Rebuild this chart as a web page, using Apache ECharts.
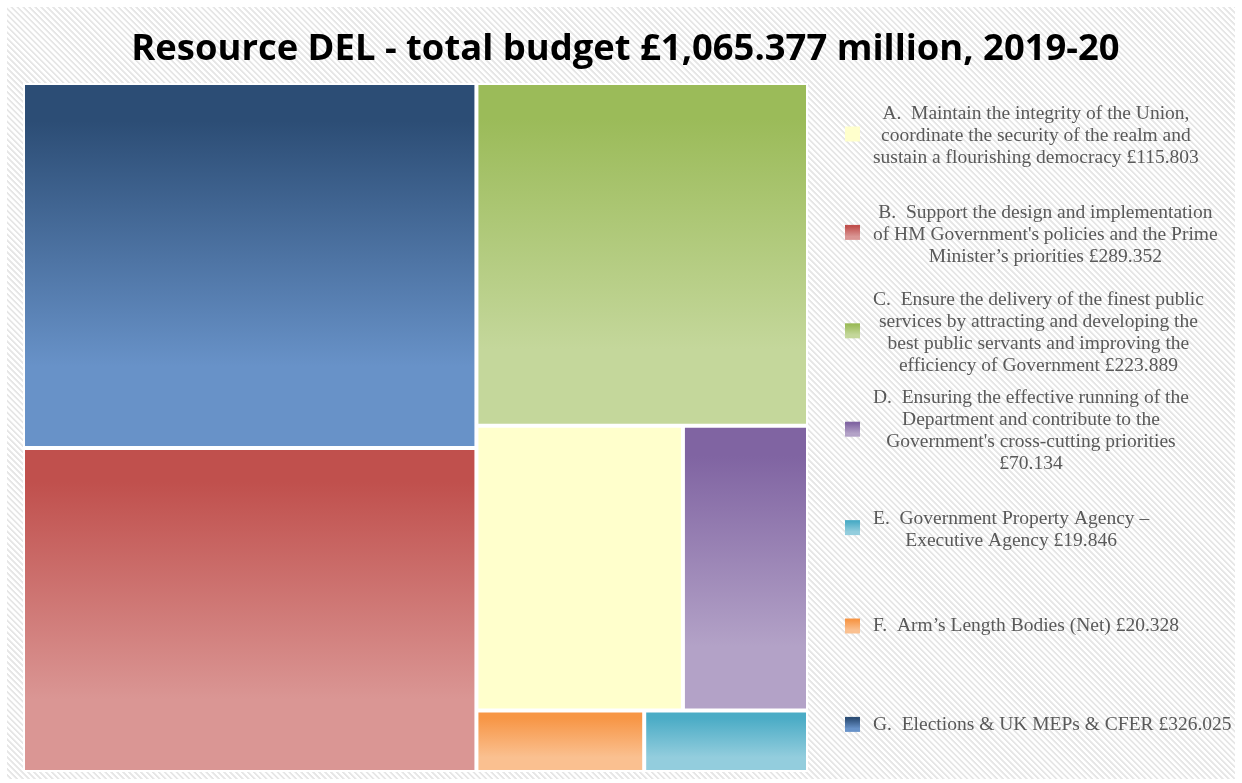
<!DOCTYPE html>
<html>
<head>
<meta charset="utf-8">
<script src="https://cdn.jsdelivr.net/npm/echarts@6/dist/echarts.min.js"></script>
<style>
  html, body { margin: 0; padding: 0; background: #fff; }
  #frame {
    position: absolute; left: 7px; top: 7px; width: 1228px; height: 772px;
    background: repeating-linear-gradient(45deg, #ffffff 0px, #ffffff 1.8px, #e6e6e6 2.4px, #e6e6e6 3.6px, #ffffff 4.2px);
  }
  #chart { position: absolute; left: 0; top: 0; width: 1242px; height: 783px; }
</style>
</head>
<body>
<div id="frame"></div>
<div id="chart"></div>
<script>
// Resource DEL budget lines, 2019-20 (£ million)
const codes = ['A', 'B', 'C', 'D', 'E', 'F', 'G'];
const values = [115.803, 289.352, 223.889, 70.134, 19.846, 20.328, 326.025];
const descriptionLines = [
  ['A.  Maintain the integrity of the Union,', 'coordinate the security of the realm and', 'sustain a flourishing democracy'],
  ['B.  Support the design and implementation', "of HM Government's policies and the Prime", 'Minister’s priorities'],
  ['C.  Ensure the delivery of the finest public', 'services by attracting and developing the', 'best public servants and improving the', 'efficiency of Government'],
  ['D.  Ensuring the effective running of the', 'Department and contribute to the', "Government's cross-cutting priorities", ''],
  ['E.  Government Property Agency –', 'Executive Agency'],
  ['F.  Arm’s Length Bodies (Net)'],
  ['G.  Elections & UK MEPs & CFER']
];
const titleText = 'Resource DEL - total budget £1,065.377 million, 2019-20';

// How the tiles are grouped into columns and rows
const tileArrangement = [['G', 'B'], ['C', [['A', 'D'], ['F', 'E']]]];

// Fill colours per budget line: gradient top and bottom
const topColors    = ['#ffffcc', '#c0504d', '#9bbb59', '#8064a2', '#4bacc6', '#f79646', '#2c4d75'];
const bottomColors = ['#ffffcc', '#da9694', '#c4d79b', '#b3a2c7', '#93cddd', '#fac090', '#6892c8'];

function fillFor(i) {
  return new echarts.graphic.LinearGradient(0, 0, 0, 1, [
    { offset: 0, color: topColors[i] },
    { offset: 0.1, color: topColors[i] },
    { offset: 0.78, color: bottomColors[i] },
    { offset: 1, color: bottomColors[i] }
  ]);
}

function buildNode(node) {
  if (typeof node === 'string') {
    const i = codes.indexOf(node);
    return {
      name: node,
      value: values[i],
      itemStyle: { color: fillFor(i), borderColor: '#fff', borderWidth: 2 }
    };
  }
  return { name: '', children: node.map(buildNode) };
}

function legendText(i) {
  const lines = descriptionLines[i].slice();
  const last = lines.pop();
  const amount = '£' + values[i].toFixed(3);
  lines.push(last ? last + ' ' + amount : amount);
  return lines.map(l => '{c|' + l + '}').join('\n');
}

const legendFont = 'Liberation Serif';
const legendTop = 134;
const legendStep = 98.4;
const legendElements = [];
codes.forEach((code, i) => {
  const cy = legendTop + i * legendStep;
  legendElements.push({
    type: 'rect',
    shape: { x: 845, y: cy - 7.5, width: 15, height: 15 },
    style: { fill: fillFor(i) }
  });
  legendElements.push({
    type: 'text',
    x: 873,
    y: cy + (descriptionLines[i].length > 1 ? 2 : 0),
    style: {
      text: legendText(i),
      align: 'left',
      verticalAlign: 'middle',
      fill: '#595959',
      font: '19.5px "' + legendFont + '"',
      rich: {
        c: { align: 'center', fontFamily: legendFont, fontSize: 19.5, lineHeight: 22, fill: '#595959' }
      }
    }
  });
});

const chart = echarts.init(document.getElementById('chart'), null, { renderer: 'canvas' });
chart.setOption({
  animation: false,
  backgroundColor: 'transparent',
  title: {
    text: titleText,
    left: 625.5,
    top: 32,
    padding: 0,
    textAlign: 'center',
    textStyle: { fontFamily: 'Open Sans', fontWeight: 'bold', fontSize: 36.4, color: '#000' }
  },
  series: [{
    type: 'treemap',
    left: 23, top: 83, width: 785, height: 689,
    roam: false,
    nodeClick: false,
    sort: false,
    squareRatio: 1,
    breadcrumb: { show: false },
    label: { show: false },
    upperLabel: { show: false },
    itemStyle: { borderColor: '#fff', borderWidth: 0, gapWidth: 0 },
    emphasis: { disabled: true },
    data: tileArrangement.map(buildNode)
  }],
  graphic: { elements: legendElements }
});
</script>
</body>
</html>
